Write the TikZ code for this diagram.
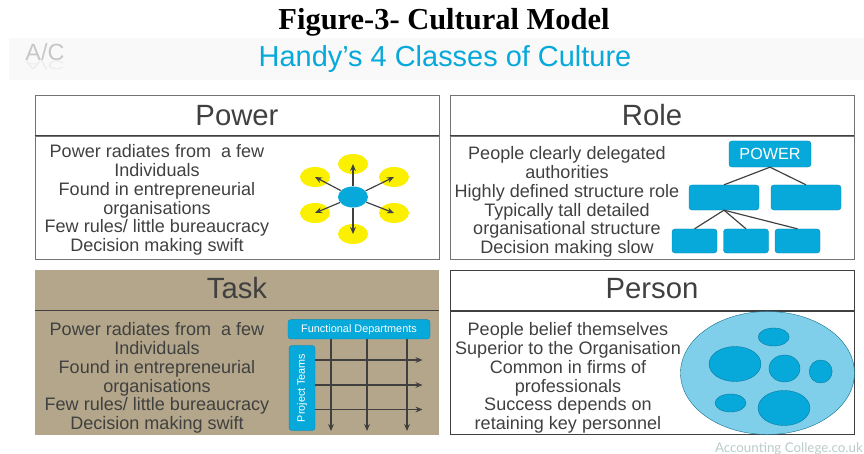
\documentclass[tikz,border=0pt]{standalone}
\usepackage{fontspec}
\setmainfont{Liberation Sans}
\newfontfamily\titlefont{Liberation Serif}
\newfontfamily\markfont{Lato}
\usetikzlibrary{arrows.meta,shapes.geometric}

\definecolor{tealblue}{HTML}{07A9DA}
\definecolor{palecyan}{HTML}{7FCEEA}
\definecolor{sunyellow}{HTML}{FAF000}
\definecolor{taskbrown}{HTML}{B3A68A}
\definecolor{inkgrey}{HTML}{404040}
\definecolor{creditgrey}{HTML}{B9CBCB}

\tikzset{
  panelbox/.style={draw=#1, line width=0.7pt, minimum width=12.12cm, inner sep=0pt},
  headbox/.style={panelbox=#1, minimum height=1.23cm, text=inkgrey, font=\fontsize{25}{28}\selectfont},
  bodybox/.style={panelbox=#1, minimum height=3.69cm},
  bodytext/.style={text=inkgrey, align=center, inner sep=0pt, font=\fontsize{15.4}{16}\selectfont},
  petal/.style={ellipse, fill=sunyellow, minimum width=0.9cm, minimum height=0.6cm, inner sep=0pt},
  bluebox/.style={draw=tealblue!80!black, line width=0.3pt, fill=tealblue, rounded corners=2.5pt, inner sep=0pt, text=white},
  blob/.style={ellipse, draw=tealblue!70!black, line width=0.3pt, fill=tealblue, inner sep=0pt},
  spoke/.style={-{Stealth[length=6pt,width=5pt]}, inkgrey, line width=1pt},
  gridline/.style={-{Stealth[length=6pt,width=5pt]}, inkgrey, line width=1pt},
  treeline/.style={inkgrey, line width=1pt}
}

\begin{document}
\begin{tikzpicture}[x=0.03cm,y=-0.03cm]
\useasboundingbox (0,0) rectangle (864,454);

% heading
\node[font=\titlefont\bfseries\fontsize{26}{28}\selectfont] (figtitle) at (444,22.5) {Figure-3- Cultural Model};
\fill[black!2.5] (9,38) rectangle (864,80);
\node[text=tealblue, font=\fontsize{24.7}{28}\selectfont] (slidetitle) at (445,59) {Handy’s 4 Classes of Culture};
\node[text=black!22, font=\fontsize{20}{24}\selectfont] (logo) at (45,52) {A/C};
\node[text=black!7, yscale=-0.5, font=\fontsize{20}{24}\selectfont] (logoshadow) at (45,66) {A/C};

% Power
\node[headbox=black!55] (powerhead) at (237,115.5) {Power};
\node[bodybox=black!55, minimum height=3.69cm] (powerbody) at (237,197.5) {};
\draw[inkgrey, line width=0.9pt] (powerbody.north west) -- (powerbody.north east);
\node[bodytext] (powertext) at (157,200) {Power radiates from \ a few\\Individuals\\Found in entrepreneurial\\organisations\\Few rules/ little bureaucracy\\Decision making swift};

\node[petal] (p1) at (353,164) {};
\node[petal] (p2) at (394,177) {};
\node[petal] (p3) at (394,213) {};
\node[petal] (p4) at (353,234) {};
\node[petal] (p5) at (315,213) {};
\node[petal] (p6) at (315,177) {};
\node[ellipse, fill=tealblue, minimum width=0.9cm, minimum height=0.63cm, inner sep=0pt] (hub) at (353,197) {};
\draw[spoke] (hub) -- (p1.center);
\draw[spoke] (hub) -- (p2.center);
\draw[spoke] (hub) -- (p3.center);
\draw[spoke] (hub) -- (p4.center);
\draw[spoke] (hub) -- (p5.center);
\draw[spoke] (hub) -- (p6.center);

% Role
\node[headbox=black!55] (rolehead) at (652,115.5) {Role};
\node[bodybox=black!55] (rolebody) at (652,197.5) {};
\draw[inkgrey, line width=0.9pt] (rolebody.north west) -- (rolebody.north east);
\node[bodytext] (roletext) at (567,202) {People clearly delegated\\authorities\\Highly defined structure role\\Typically tall detailed\\organisational structure\\Decision making slow};

\node[bluebox, minimum width=2.46cm, minimum height=0.78cm, font=\fontsize{13.8}{15}\selectfont] (top) at (770,154) {POWER};
\node[bluebox, minimum width=2.1cm, minimum height=0.75cm] (midl) at (724,197.5) {};
\node[bluebox, minimum width=2.1cm, minimum height=0.75cm] (midr) at (806,197.5) {};
\node[bluebox, minimum width=1.35cm, minimum height=0.72cm] (lowa) at (694.5,241) {};
\node[bluebox, minimum width=1.35cm, minimum height=0.72cm] (lowb) at (746,241) {};
\node[bluebox, minimum width=1.35cm, minimum height=0.72cm] (lowc) at (797.5,241) {};
\draw[treeline] (top.south) -- (midl.north);
\draw[treeline] (top.south) -- (midr.north);
\draw[treeline] (midl.south) -- (lowa.north);
\draw[treeline] (midl.south) -- (lowb.north);
\draw[treeline] (midl.south) -- (lowc.north);

% Task
\fill[taskbrown] (35,269.5) rectangle (439,434.7);
\coordinate (taskl) at (35,310.7);
\coordinate (taskr) at (439,310.7);
\draw[inkgrey, line width=0.9pt] (taskl) -- (taskr);
\node[text=inkgrey, font=\fontsize{25}{28}\selectfont] (taskhead) at (237,288) {Task};
\node[bodytext] (tasktext) at (157,378) {Power radiates from \ a few\\Individuals\\Found in entrepreneurial\\organisations\\Few rules/ little bureaucracy\\Decision making swift};

\node[bluebox, minimum width=4.26cm, minimum height=0.58cm, font=\fontsize{9.3}{11}\selectfont] (depts) at (359,329.3) {Functional Departments};
\node[bluebox, minimum width=0.78cm, minimum height=2.55cm, font=\fontsize{9.2}{11}\selectfont] (teams) at (302,388) {\rotatebox{90}{Project Teams}};
\coordinate (d1) at (331,431);
\coordinate (d2) at (367,431);
\coordinate (d3) at (407,431);
\coordinate (t1) at (422.5,360);
\coordinate (t2) at (422.5,385);
\coordinate (t3) at (422.5,409.5);
\draw[gridline] (depts.south -| d1) -- (d1);
\draw[gridline] (depts.south -| d2) -- (d2);
\draw[gridline] (depts.south -| d3) -- (d3);
\draw[gridline] (teams.east |- t1) -- (t1);
\draw[gridline] (teams.east |- t2) -- (t2);
\draw[gridline] (teams.east |- t3) -- (t3);

% Person
\node[headbox=inkgrey, minimum height=1.23cm] (personhead) at (652,290.5) {};
\node[text=inkgrey, font=\fontsize{25}{28}\selectfont] (personlabel) at (652,288.5) {Person};
\node[panelbox=inkgrey, minimum height=3.71cm] (personbody) at (652,372.8) {};
\draw[inkgrey, line width=0.9pt] (personbody.north west) -- (personbody.north east);
\node[bodytext] (persontext) at (568,378) {People belief themselves\\Superior to the Organisation\\Common in firms of\\professionals\\Success depends on\\retaining key personnel};

\node[ellipse, draw=tealblue!60!black, line width=0.3pt, fill=palecyan, minimum width=5.22cm, minimum height=3.69cm, inner sep=0pt] (crowd) at (767.5,373) {};
\node[blob, minimum width=0.93cm, minimum height=0.54cm] (b1) at (773.7,337) {};
\node[blob, minimum width=1.56cm, minimum height=1.05cm] (b2) at (735,364) {};
\node[blob, minimum width=0.93cm, minimum height=0.81cm] (b3) at (784.5,368.5) {};
\node[blob, minimum width=0.69cm, minimum height=0.69cm] (b4) at (820.7,371.5) {};
\node[blob, minimum width=0.93cm, minimum height=0.54cm] (b5) at (730.5,403) {};
\node[blob, minimum width=1.56cm, minimum height=1.05cm] (b6) at (784,408) {};

\node[anchor=east, inner sep=0pt, text=creditgrey, font=\markfont\fontsize{11.4}{13}\selectfont] (credit) at (863,448.5) {Accounting College.co.uk};
\end{tikzpicture}
\end{document}
